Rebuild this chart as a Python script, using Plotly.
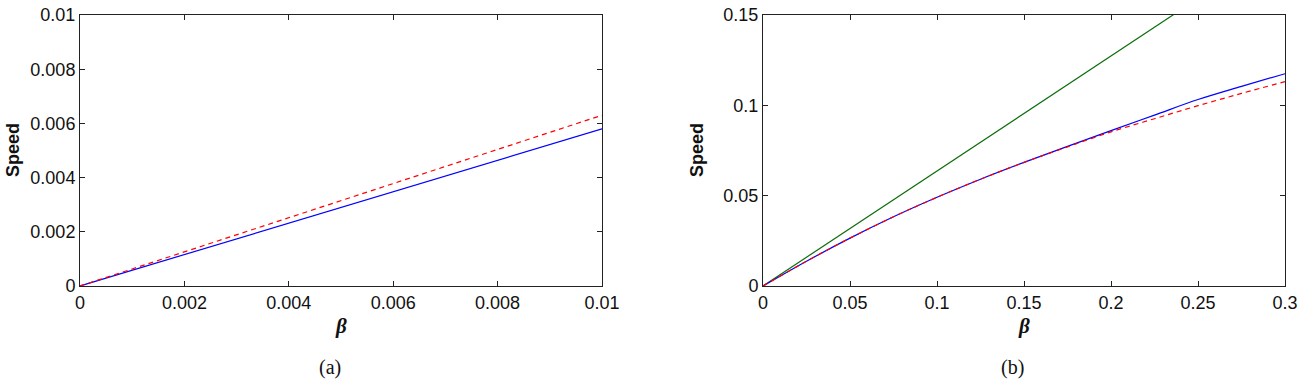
import plotly.graph_objects as go

# ---- data: panel (a) ----
beta_a = [0.0, 0.01]
speed_a_blue = [0.0, 0.0058]
speed_a_red = [0.0, 0.0063]

# ---- data: panel (b) ----
beta_b = [0.0, 0.025, 0.05, 0.075, 0.1, 0.125, 0.15, 0.175, 0.2, 0.225, 0.25, 0.275, 0.3]
speed_b_blue = [0.0, 0.0137, 0.0265, 0.0383, 0.0491, 0.0591, 0.0684, 0.0773, 0.0860, 0.0946, 0.1032, 0.1105, 0.1175]
speed_b_red = [0.0, 0.0137, 0.0265, 0.0383, 0.0491, 0.0591, 0.0684, 0.0770, 0.0853, 0.0926, 0.0998, 0.1066, 0.1131]
beta_b_green = [0.0, 0.3]
speed_b_green = [0.0, 0.191]

xticks_a = [0, 0.002, 0.004, 0.006, 0.008, 0.01]
xticklabels_a = ["0", "0.002", "0.004", "0.006", "0.008", "0.01"]
yticks_a = [0, 0.002, 0.004, 0.006, 0.008, 0.01]
yticklabels_a = ["0", "0.002", "0.004", "0.006", "0.008", "0.01"]
xticks_b = [0, 0.05, 0.1, 0.15, 0.2, 0.25, 0.3]
xticklabels_b = ["0", "0.05", "0.1", "0.15", "0.2", "0.25", "0.3"]
yticks_b = [0, 0.05, 0.1, 0.15]
yticklabels_b = ["0", "0.05", "0.1", "0.15"]

W, H = 1301, 384
BLUE = "#0000ff"
RED = "#ff0000"
GREEN = "#0a6e0a"

fig = go.Figure()
fig.add_trace(go.Scatter(x=beta_a, y=speed_a_blue, mode="lines",
                         line=dict(color=BLUE, width=1.2), xaxis="x", yaxis="y"))
fig.add_trace(go.Scatter(x=beta_a, y=speed_a_red, mode="lines",
                         line=dict(color=RED, width=1.2, dash="5px,4px"), xaxis="x", yaxis="y"))
fig.add_trace(go.Scatter(x=beta_b_green, y=speed_b_green, mode="lines",
                         line=dict(color=GREEN, width=1.2), xaxis="x2", yaxis="y2"))
fig.add_trace(go.Scatter(x=beta_b, y=speed_b_blue, mode="lines", line_shape="spline",
                         line=dict(color=BLUE, width=1.2, smoothing=1.0), xaxis="x2", yaxis="y2"))
fig.add_trace(go.Scatter(x=beta_b, y=speed_b_red, mode="lines", line_shape="spline",
                         line=dict(color=RED, width=1.2, dash="5px,4px", smoothing=1.0),
                         xaxis="x2", yaxis="y2"))

tickfont = dict(family="Liberation Sans, Arial, sans-serif", size=18, color="#111")
y0, y1 = 1 - 286 / H, 1 - 15 / H

def axis(domain, rng, tv, tt, anchor):
    return dict(domain=domain, range=rng, tickvals=tv, ticktext=tt, anchor=anchor,
                showline=True, linecolor="#222", linewidth=1, mirror="ticks",
                ticks="inside", ticklen=5, tickcolor="#222", showgrid=False,
                zeroline=False, tickfont=tickfont, fixedrange=True, automargin=False)

fig.update_layout(
    width=W, height=H, margin=dict(l=0, r=0, t=0, b=0, autoexpand=False),
    paper_bgcolor="white", plot_bgcolor="white", showlegend=False,
    xaxis=axis([80 / W, 602 / W], [0, 0.01], xticks_a, xticklabels_a, "y"),
    yaxis=axis([y0, y1], [0, 0.01], yticks_a, yticklabels_a, "x"),
    xaxis2=axis([763 / W, 1285 / W], [0, 0.3], xticks_b, xticklabels_b, "y2"),
    yaxis2=axis([y0, y1], [0, 0.15], yticks_b, yticklabels_b, "x2"),
)

lab = dict(family="Liberation Sans, Arial, sans-serif", size=18, color="#111")
beta_font = dict(family="Liberation Serif, Times New Roman, serif", size=21, color="#111")
cap_font = dict(family="Liberation Serif, Times New Roman, serif", size=20, color="#111")
annots = [
    dict(x=13 / W, y=1 - 150 / H, text="<b>Speed</b>", textangle=-90, font=lab),
    dict(x=697 / W, y=1 - 150 / H, text="<b>Speed</b>", textangle=-90, font=lab),
    dict(x=341 / W, y=1 - 326 / H, text="<b><i>β</i></b>", font=beta_font),
    dict(x=1024 / W, y=1 - 326 / H, text="<b><i>β</i></b>", font=beta_font),
    dict(x=330 / W, y=1 - 367 / H, text="(a)", font=cap_font),
    dict(x=1012 / W, y=1 - 367 / H, text="(b)", font=cap_font),
]
for a in annots:
    a.update(xref="paper", yref="paper", showarrow=False, xanchor="center", yanchor="middle")
fig.update_layout(annotations=annots)

fig.write_html("out.html")
